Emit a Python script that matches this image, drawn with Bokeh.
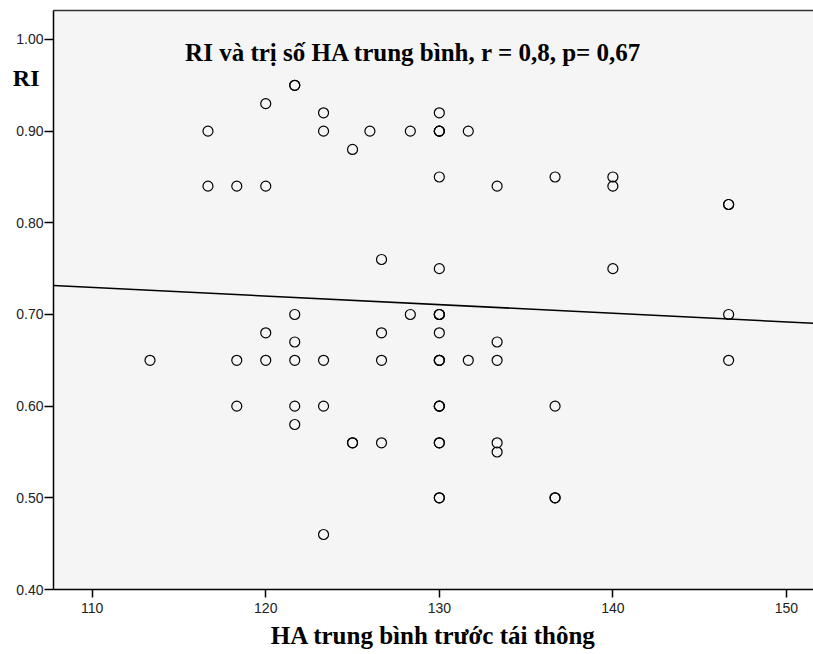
from bokeh.plotting import figure
from bokeh.models import Range1d, FixedTicker, Label, ColumnDataSource, LinearAxis
from bokeh.embed import file_html
from bokeh.resources import INLINE

# Data (mean BP before recanalisation vs RI)
ha = [113.33,
      116.67, 116.67,
      118.33, 118.33, 118.33,
      120.0, 120.0, 120.0, 120.0,
      121.67, 121.67, 121.67, 121.67, 121.67, 121.67, 121.67,
      123.33, 123.33, 123.33, 123.33, 123.33,
      125.0, 125.0, 125.0,
      126.0,
      126.67, 126.67, 126.67, 126.67,
      128.33, 128.33,
      130.0, 130.0, 130.0, 130.0, 130.0, 130.0, 130.0, 130.0, 130.0, 130.0,
      130.0, 130.0, 130.0, 130.0, 130.0, 130.0, 130.0, 130.0, 130.0, 130.0,
      131.67, 131.67,
      133.33, 133.33, 133.33, 133.33, 133.33,
      136.67, 136.67, 136.67, 136.67,
      140.0, 140.0, 140.0,
      146.67, 146.67, 146.67, 146.67]
ri = [0.65,
      0.90, 0.84,
      0.84, 0.65, 0.60,
      0.93, 0.84, 0.68, 0.65,
      0.95, 0.95, 0.70, 0.67, 0.65, 0.60, 0.58,
      0.92, 0.90, 0.65, 0.60, 0.46,
      0.88, 0.56, 0.56,
      0.90,
      0.76, 0.68, 0.65, 0.56,
      0.90, 0.70,
      0.92, 0.90, 0.90, 0.85, 0.75, 0.70, 0.70, 0.68, 0.65, 0.65,
      0.60, 0.60, 0.56, 0.56, 0.50, 0.50, 0.65, 0.90, 0.70, 0.60,
      0.90, 0.65,
      0.84, 0.67, 0.65, 0.56, 0.55,
      0.85, 0.60, 0.50, 0.50,
      0.85, 0.84, 0.75,
      0.82, 0.82, 0.70, 0.65]

# fitted regression line (intercept, slope)
fit_intercept = 0.8331
fit_slope = -0.000941

x_ticks = [110, 120, 130, 140, 150]
y_ticks = [0.40, 0.50, 0.60, 0.70, 0.80, 0.90, 1.00]

title_text = "RI và trị số HA trung bình, r = 0,8, p= 0,67"
x_label = "HA trung bình trước tái thông"
y_label = "RI"

x_min, x_max = 107.77, 151.56
y_min, y_max = 0.40, 1.0316

p = figure(width=813, height=654, output_backend="svg", toolbar_location=None,
           x_range=Range1d(x_min, x_max), y_range=Range1d(y_min, y_max),
           min_border_left=53, min_border_top=10, min_border_bottom=65,
           min_border_right=0)
p.background_fill_color = "#f5f5f5"
p.border_fill_color = "white"
p.outline_line_color = None
p.grid.visible = False

for ax in (p.xaxis[0], p.yaxis[0]):
    ax.axis_line_color = "black"
    ax.axis_line_width = 1.5
    ax.major_tick_line_color = "black"
    ax.major_tick_line_width = 1.5
    ax.minor_tick_line_color = None
    ax.major_tick_in = 0
    ax.major_label_text_font = "Liberation Sans"
    ax.major_label_text_font_size = "14px"
    ax.major_label_text_color = "#222222"

p.xaxis.ticker = FixedTicker(ticks=x_ticks)
p.yaxis.ticker = FixedTicker(ticks=y_ticks)
p.yaxis.major_label_overrides = {t: f"{t:.2f}" for t in y_ticks}
p.xaxis.major_tick_out = 8
p.yaxis.major_tick_out = 9
p.xaxis.major_label_standoff = 5
p.yaxis.major_label_standoff = 1

p.xaxis.axis_label = x_label
p.xaxis.axis_label_text_font = "Liberation Serif"
p.xaxis.axis_label_text_font_style = "bold"
p.xaxis.axis_label_text_font_size = "25px"
p.xaxis.axis_label_text_color = "black"
p.xaxis.axis_label_standoff = 6

# top border of the frame (no right border in the reference)
top_axis = LinearAxis(ticker=FixedTicker(ticks=[]), axis_line_color="#333333",
                      axis_line_width=1.5, major_tick_line_color=None,
                      minor_tick_line_color=None, major_label_text_color=None)
p.add_layout(top_axis, "above")

# "RI" label left of the frame, near the top, drawn as a tick label of an extra axis
ri_pos = 0.9575
ri_axis = LinearAxis(ticker=FixedTicker(ticks=[ri_pos]),
                     major_label_overrides={ri_pos: y_label},
                     axis_line_color=None, major_tick_line_color=None,
                     minor_tick_line_color=None, major_tick_out=0, major_tick_in=0,
                     major_label_standoff=-26,
                     major_label_text_font="Liberation Serif",
                     major_label_text_font_style="bold",
                     major_label_text_font_size="24px",
                     major_label_text_color="black")
p.add_layout(ri_axis, "left")

# regression line
lx = [x_min, x_max]
ly = [fit_intercept + fit_slope * v for v in lx]
p.line(lx, ly, line_color="black", line_width=1.5)

src = ColumnDataSource(dict(x=ha, y=ri))
p.scatter("x", "y", source=src, marker="circle", size=10, fill_color=None,
          line_color="black", line_width=1.2)

p.add_layout(Label(x=128.52, y=0.9858, text=title_text, text_align="center",
                   text_baseline="alphabetic", text_font="Liberation Serif",
                   text_font_style="bold", text_font_size="25px", text_color="black"))

open("out.html", "w").write(file_html(p, INLINE))
